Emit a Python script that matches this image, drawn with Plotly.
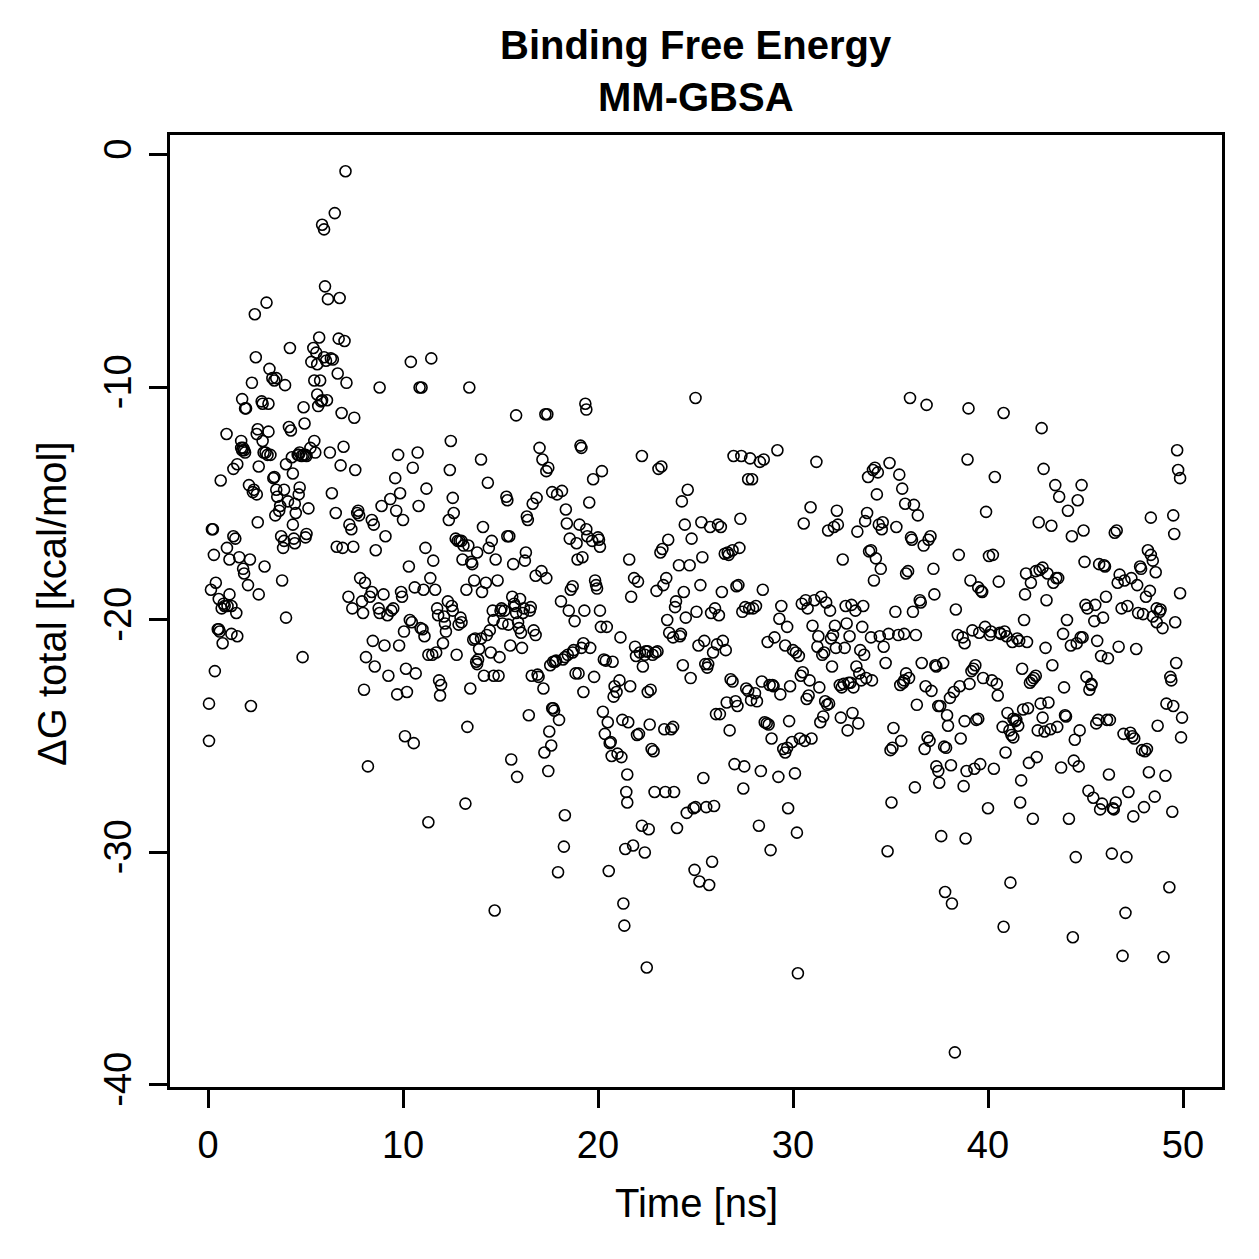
import plotly.graph_objects as go

# ---- data (time in ns, dG in kcal/mol) ----
time_00_05 = [0.05,0.05,0.15,0.2,0.25,0.3,0.35,0.4,0.5,0.55,
              0.6,0.55,0.65,0.7,0.75,0.8,0.85,0.95,0.97,1.0,
              1.1,1.1,1.2,1.2,1.3,1.4,1.3,1.45,1.5,1.5,
              1.6,1.7,1.75,1.8,1.85,1.9,1.7,1.75,1.8,1.85,
              1.9,1.95,2.05,2.1,2.15,2.2,2.25,2.3,2.35,2.4,
              2.45,2.5,2.55,2.5,2.55,2.6,2.6,2.75,2.8,2.8,
              2.85,2.9,2.95,3.05,3.0,3.1,3.1,3.15,3.2,3.3,
              3.4,3.5,3.35,3.4,3.45,3.5,3.55,3.65,3.7,3.75,
              3.8,3.85,3.9,3.9,3.95,4.0,4.0,4.1,4.15,4.25,
              4.2,4.3,4.35,4.35,4.4,4.45,4.45,4.5,4.6,4.65,
              4.65,4.7,4.7,4.8,4.9,4.85,4.9,4.95,5.0,5.05]
dg_00_05 = [-25.2,-23.6,-18.7,-16.1,-16.1,-17.2,-22.2,-18.4,-20.4,-20.4,
            -20.5,-19.1,-14.0,-19.5,-21.0,-19.3,-19.4,-12.0,-16.9,-19.4,
            -17.4,-18.9,-20.6,-19.4,-16.4,-16.5,-13.5,-19.7,-13.3,-20.7,
            -17.3,-12.6,-12.7,-12.6,-12.7,-12.8,-12.3,-10.5,-17.8,-18.0,
            -10.9,-10.9,-18.5,-14.2,-17.4,-23.7,-9.8,-14.5,-14.4,-6.85,
            -8.7,-12.0,-11.8,-14.6,-15.8,-18.9,-13.4,-10.6,-10.7,-12.3,
            -12.8,-17.7,-12.8,-12.9,-6.35,-11.9,-10.7,-9.2,-12.9,-9.6,
            -9.7,-9.6,-13.9,-13.85,-15.5,-14.4,-14.7,-15.3,-15.1,-16.4,
            -18.3,-16.9,-16.6,-14.4,-9.9,-13.3,-19.9,-14.9,-11.7,-11.85,
            -8.3,-13.0,-13.7,-15.9,-16.5,-16.7,-15.0,-15.4,-12.9,-12.9,
            -14.6,-14.3,-12.8,-12.95,-12.9,-21.6,-10.85,-11.55,-16.45,-16.3]

time_05_10 = [5.05,5.0,5.15,5.25,5.3,5.4,5.45,5.45,5.5,5.55,
              5.6,5.6,5.65,5.7,5.75,5.8,5.85,5.85,5.95,5.95,
              6.0,6.05,6.1,6.15,6.25,6.3,6.4,6.35,6.5,6.55,
              6.6,6.65,6.7,6.75,6.8,6.85,6.9,6.95,7.0,7.05,
              7.1,7.2,7.25,7.35,7.4,7.45,7.5,7.55,7.65,7.7,
              7.75,7.8,7.9,7.95,8.0,8.05,8.1,8.2,8.3,8.4,
              8.4,8.5,8.45,8.55,8.6,8.75,8.8,8.8,8.9,9.0,
              9.05,9.1,9.2,9.25,9.35,9.4,9.5,9.6,9.65,9.7,
              9.75,9.8,9.85,9.9,9.95,10.0]
dg_05_10 = [-12.95,-12.9,-15.2,-12.6,-8.9,-8.3,-12.3,-9.7,-12.8,-8.5,
            -9.0,-10.3,-10.8,-7.85,-9.7,-10.6,-10.55,-3.0,-3.2,-8.7,
            -5.65,-8.85,-10.55,-6.2,-12.8,-8.75,-8.8,-14.55,-2.5,-15.4,
            -16.85,-9.4,-7.9,-6.15,-13.35,-11.1,-16.9,-12.55,-8.0,-0.7,
            -9.8,-19.0,-15.9,-16.1,-19.5,-16.85,-11.3,-13.55,-15.4,-15.3,
            -15.5,-18.2,-19.2,-19.7,-23.0,-18.4,-21.6,-26.3,-19.0,-18.8,
            -15.7,-15.9,-20.9,-22.0,-17.0,-19.5,-19.7,-10.0,-15.1,-18.9,
            -21.1,-16.4,-19.8,-22.4,-14.8,-19.6,-19.5,-13.9,-15.3,-23.2,
            -12.9,-21.1,-14.55,-18.8,-19.0,-15.7]

time_10_15 = [10.05,10.1,10.15,10.2,10.3,10.35,10.4,10.45,10.5,10.55,
              10.6,10.65,10.75,10.8,10.85,10.9,10.95,11.0,11.1,11.05,
              11.15,11.2,11.3,11.3,11.4,11.45,11.5,11.55,11.65,11.7,
              11.75,11.8,11.85,11.9,11.95,12.05,12.1,12.15,12.2,12.3,
              12.35,12.4,12.45,12.5,12.55,12.55,12.6,12.7,12.8,12.9,
              13.0,12.75,12.85,12.95,13.0,13.05,13.1,13.2,13.25,13.3,
              13.35,13.4,13.45,13.5,13.55,13.6,13.7,13.65,13.75,13.8,
              13.85,13.8,13.9,14.0,14.0,14.05,14.1,14.15,14.25,14.3,
              14.35,14.4,14.45,14.5,14.55,14.6,14.65,14.65,14.7,14.75,
              14.85,14.9,14.95,15.0]
dg_10_15 = [-20.5,-25.0,-22.1,-23.1,-17.7,-20.0,-8.9,-20.1,-13.45,-25.3,
            -18.6,-22.3,-12.8,-15.1,-10.0,-20.35,-10.0,-20.4,-20.7,-18.7,
            -16.9,-14.35,-21.5,-28.7,-18.2,-8.75,-21.5,-17.45,-18.7,-21.4,
            -19.5,-19.8,-22.6,-23.25,-22.8,-21.0,-19.85,-20.15,-20.5,-19.2,
            -15.7,-13.55,-12.3,-19.4,-19.6,-14.75,-15.4,-16.5,-16.6,-16.6,
            -16.6,-21.5,-20.2,-19.9,-20.1,-17.4,-16.8,-27.9,-18.7,-24.6,
            -16.8,-10.0,-22.95,-17.5,-17.6,-20.85,-20.8,-18.3,-21.8,-21.9,
            -21.7,-17.1,-21.25,-13.1,-20.8,-18.8,-16.0,-22.4,-18.4,-20.65,
            -14.1,-16.9,-20.45,-21.4,-16.6,-19.6,-20.0,-22.4,-32.5,-17.4,
            -18.3,-22.4,-21.6,-19.6]

time_15_20 = [15.05,15.1,15.2,15.3,15.35,15.35,15.4,15.45,15.5,15.55,
              15.6,15.65,15.7,15.75,15.8,15.8,15.85,15.9,15.95,16.0,
              16.05,16.1,16.15,16.2,16.25,16.3,16.35,16.4,16.45,16.5,
              16.55,16.6,16.65,16.7,16.8,16.8,16.85,16.9,16.95,17.0,
              17.1,17.15,17.2,17.25,17.3,17.4,17.35,17.35,17.45,17.45,
              17.5,17.55,17.7,17.6,17.65,17.65,17.7,17.75,17.8,17.85,
              17.9,17.95,18.0,18.1,18.15,18.2,18.3,18.25,18.3,18.35,
              18.4,18.45,18.5,18.55,18.6,18.7,18.7,18.75,18.8,18.85,
              18.9,18.95,19.0,19.05,19.1,19.15,19.15,19.25,19.2,19.25,
              19.3,19.35,19.4,19.4,19.45,19.55,19.6,19.7,19.75,19.8,
              19.85,19.9,19.95,20.0]
dg_15_20 = [-19.5,-20.15,-19.6,-14.7,-14.85,-16.4,-20.2,-16.4,-21.1,-26.0,
            -19.0,-17.6,-19.3,-19.4,-19.7,-11.2,-26.75,-20.1,-20.35,-19.1,
            -20.55,-21.2,-19.7,-19.5,-17.45,-17.1,-15.55,-15.7,-24.1,-19.6,
            -19.45,-22.4,-15.0,-20.45,-20.65,-18.1,-14.75,-22.35,-22.45,-12.6,
            -17.9,-13.1,-22.95,-25.7,-11.15,-11.15,-18.2,-13.6,-13.45,-26.5,
            -24.8,-21.95,-21.8,-25.4,-14.5,-23.8,-23.8,-23.9,-21.8,-21.75,
            -14.6,-30.85,-24.3,-19.2,-14.45,-21.7,-21.6,-29.75,-28.4,-15.25,
            -15.85,-21.5,-19.6,-16.5,-18.7,-18.55,-21.4,-21.3,-20.05,-22.3,
            -16.7,-17.4,-22.3,-15.9,-12.5,-12.6,-21.2,-21.0,-17.3,-23.1,
            -19.6,-10.7,-10.95,-16.1,-16.4,-14.95,-21.2,-16.6,-13.95,-22.45,
            -18.3,-18.5,-18.65,-16.45]

time_20_25 = [20.05,20.1,20.1,20.15,20.2,20.25,20.3,20.35,20.4,20.45,
              20.5,20.55,20.6,20.65,20.7,20.75,20.8,20.85,20.95,21.0,
              21.1,21.15,21.2,21.25,21.3,21.35,21.4,21.45,21.5,21.5,
              21.55,21.6,21.65,21.7,21.8,21.85,21.9,21.95,22.0,22.1,
              22.05,22.15,22.25,22.25,22.3,22.4,22.4,22.45,22.55,22.5,
              22.55,22.6,22.65,22.7,22.75,22.85,22.8,22.9,22.95,23.05,
              23.0,23.1,23.2,23.25,23.3,23.35,23.4,23.45,23.5,23.55,
              23.6,23.65,23.75,23.85,23.85,23.9,23.95,24.0,24.05,24.15,
              24.2,24.25,24.3,24.35,24.4,24.45,24.5,24.55,24.6,24.7,
              24.75,24.8,24.9,25.0,24.95,25.0]
dg_20_25 = [-16.55,-16.85,-19.6,-20.3,-13.6,-23.95,-21.7,-24.9,-21.75,-20.3,
            -24.4,-30.8,-25.3,-25.25,-25.85,-21.8,-23.3,-22.85,-23.1,-25.75,
            -22.6,-20.75,-25.9,-24.3,-32.2,-33.15,-29.85,-27.4,-26.65,-27.85,
            -24.4,-17.4,-22.85,-19.0,-29.7,-18.2,-21.15,-21.55,-24.95,-24.9,
            -18.35,-21.4,-12.95,-28.85,-22.0,-21.5,-30.0,-21.35,-21.35,-34.95,
            -23.1,-29.0,-24.5,-23.0,-25.55,-25.65,-21.5,-27.4,-21.4,-21.35,
            -18.75,-13.5,-17.1,-13.4,-16.95,-18.5,-24.7,-27.4,-18.2,-20.0,
            -16.55,-20.55,-24.7,-24.6,-20.75,-27.4,-19.45,-19.2,-28.95,-17.65,
            -20.7,-20.6,-14.9,-21.95,-18.8,-15.9,-19.9,-28.3,-14.4,-17.65,
            -22.5,-16.5,-28.1,-28.05,-30.75,-10.45]

time_25_30 = [25.05,25.15,25.2,25.25,25.3,25.35,25.4,25.45,25.5,25.55,
              25.6,25.65,25.7,25.75,25.8,25.85,25.9,25.95,26.0,26.05,
              26.1,26.15,26.2,26.25,26.3,26.35,26.4,26.5,26.55,26.6,
              26.65,26.7,26.75,26.8,26.9,26.9,26.95,27.0,27.05,27.15,
              27.1,27.2,27.25,27.3,27.35,27.4,27.45,27.5,27.55,27.6,
              27.7,27.7,27.75,27.8,27.85,27.9,27.95,28.05,28.1,28.15,
              28.25,28.3,28.35,28.4,28.45,28.5,28.55,28.65,28.75,28.7,
              28.8,28.85,28.9,28.95,29.0,29.05,29.2,29.25,29.3,29.35,
              29.4,29.5,29.6,29.7,29.6,29.7,29.75,29.8,29.85,29.95,
              30.0]
dg_25_30 = [-19.65,-21.1,-31.25,-18.5,-15.8,-17.3,-26.8,-20.9,-21.9,-28.05,
            -22.05,-21.9,-31.4,-16.0,-19.7,-30.4,-21.4,-28.0,-19.5,-24.05,
            -21.05,-15.9,-19.8,-24.05,-16.0,-18.8,-20.9,-17.15,-21.3,-23.55,
            -17.1,-17.2,-24.75,-22.55,-22.65,-17.0,-12.95,-26.2,-23.5,-23.7,
            -18.55,-18.5,-16.9,-15.65,-12.95,-19.65,-27.25,-26.3,-19.45,-22.95,
            -23.05,-13.95,-19.5,-13.05,-23.45,-13.95,-19.5,-23.15,-19.4,-23.5,
            -28.85,-13.2,-26.5,-22.65,-18.7,-13.1,-24.4,-24.45,-24.5,-20.95,
            -22.8,-29.9,-25.1,-22.8,-22.85,-20.75,-12.7,-26.75,-19.95,-23.2,
            -19.4,-25.55,-25.7,-25.5,-21.1,-20.3,-28.1,-24.35,-22.85,-25.25,
            -21.3]

time_30_35 = [30.1,30.15,30.2,30.25,30.3,30.35,30.4,30.5,30.45,30.55,
              30.6,30.65,30.7,30.8,30.75,30.85,30.9,30.95,31.0,31.1,
              31.2,31.25,31.3,31.35,31.4,31.45,31.5,31.6,31.55,31.65,
              31.75,31.85,31.7,31.8,31.9,31.95,32.05,32.0,32.1,32.15,
              32.2,32.25,32.3,32.4,32.45,32.5,32.6,32.55,32.65,32.7,
              32.75,32.8,32.85,32.95,32.9,33.0,33.05,33.1,33.2,33.25,
              33.3,33.35,33.4,33.5,33.45,33.55,33.6,33.65,33.7,33.75,
              33.8,33.85,33.9,34.0,34.0,34.05,34.1,34.2,34.15,34.25,
              34.3,34.35,34.4,34.45,34.5,34.55,34.6,34.65,34.75,34.85,
              34.9,34.95]
dg_30_35 = [-26.6,-21.4,-29.15,-35.2,-21.55,-25.1,-22.4,-22.25,-19.3,-15.85,
            -25.2,-19.15,-23.4,-23.25,-19.5,-22.6,-15.15,-25.1,-20.25,-19.15,
            -13.2,-21.15,-20.7,-22.9,-24.4,-19.0,-21.5,-21.4,-24.15,-23.5,
            -23.65,-23.6,-19.25,-16.15,-19.6,-20.8,-20.65,-22.0,-16.0,-20.25,
            -21.2,-15.3,-15.9,-22.8,-24.2,-22.9,-22.75,-17.4,-21.2,-19.4,
            -20.15,-24.75,-22.7,-22.7,-20.7,-19.35,-24.0,-22.9,-19.6,-22.0,
            -16.2,-24.45,-22.3,-22.6,-21.3,-20.3,-19.4,-21.5,-15.75,-22.5,
            -15.4,-13.85,-17.05,-17.0,-20.75,-22.6,-13.55,-13.45,-18.3,-17.35,
            -14.6,-13.65,-15.9,-20.7,-17.8,-16.1,-15.8,-21.15,-21.85,-29.95,
            -20.6,-13.25]

time_35_40 = [35.0,35.1,35.05,35.15,35.25,35.3,35.4,35.45,35.5,35.55,
              35.6,35.65,35.7,35.7,35.75,35.8,35.9,35.8,35.95,36.0,
              36.05,36.1,36.15,36.2,36.25,36.3,36.35,36.4,36.5,36.55,
              36.6,36.7,36.75,36.8,36.85,36.9,37.0,36.95,37.05,37.1,
              37.2,37.25,37.3,37.35,37.45,37.35,37.45,37.55,37.5,37.6,
              37.7,37.75,37.85,37.8,37.9,37.95,38.05,38.1,38.15,38.25,
              38.3,38.35,38.45,38.5,38.55,38.6,38.7,38.8,38.75,38.8,
              38.85,38.9,38.95,39.0,39.05,39.1,39.15,39.25,39.2,39.3,
              39.35,39.4,39.5,39.5,39.55,39.6,39.65,39.7,39.75,39.85,
              39.9,40.0]
dg_35_40 = [-25.6,-25.5,-27.85,-24.65,-19.65,-16.0,-20.65,-13.75,-22.8,-25.2,
            -14.35,-22.7,-22.6,-20.6,-15.0,-18.0,-17.9,-22.3,-22.5,-10.45,
            -16.45,-16.55,-19.65,-15.05,-27.2,-20.65,-23.65,-15.5,-19.15,-19.25,
            -21.85,-16.8,-25.55,-22.85,-10.75,-25.05,-25.2,-16.55,-16.4,-23.05,
            -17.8,-18.9,-21.95,-26.3,-26.5,-22.0,-23.7,-23.7,-27.0,-29.3,
            -21.85,-25.45,-25.5,-31.7,-24.1,-24.55,-23.35,-26.25,-32.2,-23.1,
            -38.6,-19.55,-20.65,-17.2,-22.85,-25.1,-20.75,-21.0,-27.15,-24.35,
            -29.4,-26.5,-13.1,-10.9,-22.75,-18.3,-22.2,-22.1,-20.45,-26.4,
            -21.95,-24.3,-24.25,-18.6,-20.55,-26.2,-18.75,-18.8,-22.5,-20.3,
            -15.35,-28.1]

time_40_45 = [40.05,40.1,40.15,40.2,40.25,40.3,40.35,40.45,40.5,40.55,
              40.6,40.65,40.75,40.8,40.8,40.85,40.95,40.9,41.0,41.1,
              41.15,41.2,41.3,41.25,41.3,41.4,41.45,41.5,41.6,41.55,
              41.65,41.7,41.75,41.8,41.85,41.9,41.95,42.0,42.05,42.1,
              42.15,42.25,42.2,42.3,42.35,42.45,42.45,42.5,42.55,42.6,
              42.65,42.7,42.8,42.75,42.8,42.85,42.9,42.95,43.0,43.05,
              43.1,43.2,43.25,43.3,43.35,43.45,43.5,43.55,43.6,43.65,
              43.75,43.85,43.9,43.95,44.0,44.05,44.1,44.15,44.25,44.3,
              44.35,44.4,44.45,44.5,44.55,44.6,44.65,44.7,44.75,44.85,
              44.8,44.9,44.95]
dg_40_45 = [-17.25,-20.65,-20.5,-22.6,-17.2,-26.4,-13.85,-22.75,-23.25,-18.35,
            -20.55,-20.6,-24.6,-11.1,-33.2,-20.5,-20.7,-25.7,-24.0,-24.75,
            -31.3,-24.95,-25.05,-20.95,-24.25,-24.35,-24.3,-20.8,-20.9,-24.55,
            -27.85,-26.9,-22.1,-23.85,-20.0,-18.9,-18.0,-20.95,-23.8,-26.15,
            -22.7,-22.6,-18.4,-28.55,-22.5,-22.4,-17.9,-25.9,-24.75,-15.8,
            -17.85,-23.6,-24.2,-11.75,-17.75,-13.5,-24.8,-21.2,-19.15,-18.0,
            -23.55,-24.7,-15.95,-21.95,-18.4,-14.2,-18.2,-24.6,-18.2,-14.7,
            -26.35,-20.6,-22.9,-24.1,-24.15,-20.0,-15.3,-28.55,-21.1,-16.4,
            -33.65,-26.05,-25.15,-30.2,-21.0,-14.85,-26.3,-24.75,-20.75,-20.75,
            -14.2,-16.15,-17.5]

time_45_50 = [45.0,45.1,45.05,45.15,45.2,45.3,45.3,45.4,45.45,45.5,
              45.55,45.65,45.6,45.7,45.75,45.85,45.8,45.9,45.95,46.0,
              46.05,46.1,46.15,46.2,46.25,46.35,46.4,46.45,46.55,46.5,
              46.6,46.65,46.7,46.75,46.85,46.9,46.95,47.0,47.05,47.1,
              47.15,47.2,47.3,47.35,47.4,47.5,47.45,47.6,47.65,47.7,
              47.8,47.85,47.9,47.95,48.0,48.05,48.15,48.1,48.2,48.25,
              48.3,48.35,48.45,48.35,48.45,48.55,48.6,48.65,48.65,48.7,
              48.8,48.85,48.95,49.0,49.1,49.15,49.3,49.35,49.4,49.45,
              49.5,49.5,49.55,49.6,49.65,49.7,49.75,49.85,49.85,49.9,
              49.95]
dg_45_50 = [-19.35,-19.5,-22.45,-27.35,-23.0,-22.75,-22.8,-27.65,-20.05,-19.35,
            -24.45,-24.3,-20.9,-17.6,-28.15,-27.9,-21.55,-19.9,-17.65,-17.7,
            -19.0,-24.3,-21.65,-26.65,-24.3,-30.05,-28.1,-28.15,-27.85,-16.25,
            -16.15,-18.4,-21.15,-18.05,-19.5,-34.45,-24.9,-18.3,-32.6,-30.2,
            -19.4,-27.4,-24.85,-18.2,-25.0,-25.1,-28.45,-21.25,-18.5,-19.7,
            -17.7,-17.8,-25.6,-19.75,-28.05,-25.65,-25.55,-19.0,-17.0,-26.55,
            -18.75,-17.2,-17.45,-15.6,-19.85,-27.6,-17.95,-20.1,-19.5,-24.55,
            -19.65,-19.55,-20.35,-34.5,-26.7,-23.6,-31.5,-22.45,-22.6,-28.25,
            -23.7,-15.5,-16.3,-20.1,-21.85,-12.7,-13.55,-13.9,-18.85,-25.05,
            -24.2]

x_ticks = [0, 10, 20, 30, 40, 50]
y_ticks = [0, -10, -20, -30, -40]

time_segments = [time_00_05, time_05_10, time_10_15, time_15_20, time_20_25,
                 time_25_30, time_30_35, time_35_40, time_40_45, time_45_50]
dg_segments = [dg_00_05, dg_05_10, dg_10_15, dg_15_20, dg_20_25,
               dg_25_30, dg_30_35, dg_35_40, dg_40_45, dg_45_50]

time_ns, dg_total = [], []
for ts, ds in zip(time_segments, dg_segments):
    assert len(ts) == len(ds), (len(ts), len(ds))
    time_ns += ts
    dg_total += ds

FONT = "Liberation Sans, Arial, Helvetica, sans-serif"

fig = go.Figure(go.Scatter(
    x=time_ns, y=dg_total, mode="markers",
    marker=dict(symbol="circle-open", size=11, color="black",
                line=dict(color="black", width=1.6)),
    showlegend=False, hoverinfo="skip"))

axis_common = dict(showline=True, linecolor="black", linewidth=2.5, mirror=True,
                   ticks="outside", ticklen=18, tickwidth=2.5, tickcolor="black",
                   showgrid=False, zeroline=False,
                   tickfont=dict(family=FONT, size=38, color="black"))

fig.update_xaxes(range=[-1.95, 52.0], tickvals=x_ticks,
                 ticktext=[str(v) for v in x_ticks], ticklabelstandoff=5,
                 **axis_common)
fig.update_yaxes(range=[-40.09, 0.86], tickvals=y_ticks,
                 ticktext=[str(v) for v in y_ticks], tickangle=-90,
                 ticklabelstandoff=3, **axis_common)

W = 1259
fig.update_layout(
    width=W, height=W,
    margin=dict(l=170, r=37, t=135, b=172),
    plot_bgcolor="white", paper_bgcolor="white",
    font=dict(family=FONT, color="black"),
    annotations=[
        dict(text="<b>Binding Free Energy</b>", x=0.5, y=(1087 - 45) / 952,
             xref="paper", yref="paper", xanchor="center", yanchor="middle",
             showarrow=False, font=dict(family=FONT, size=40, color="black")),
        dict(text="<b>MM-GBSA</b>", x=0.5, y=(1087 - 97) / 952,
             xref="paper", yref="paper", xanchor="center", yanchor="middle",
             showarrow=False, font=dict(family=FONT, size=40, color="black")),
        dict(text="Time [ns]", x=0.5, y=(1087 - 1203) / 952,
             xref="paper", yref="paper", xanchor="center", yanchor="middle",
             showarrow=False, font=dict(family=FONT, size=40, color="black")),
        dict(text="ΔG total [kcal/mol]", x=(52 - 170) / 1052, y=(1087 - 604) / 952,
             xref="paper", yref="paper", xanchor="center", yanchor="middle",
             textangle=-90, showarrow=False,
             font=dict(family=FONT, size=40, color="black")),
    ],
)

fig.write_html("out.html")
